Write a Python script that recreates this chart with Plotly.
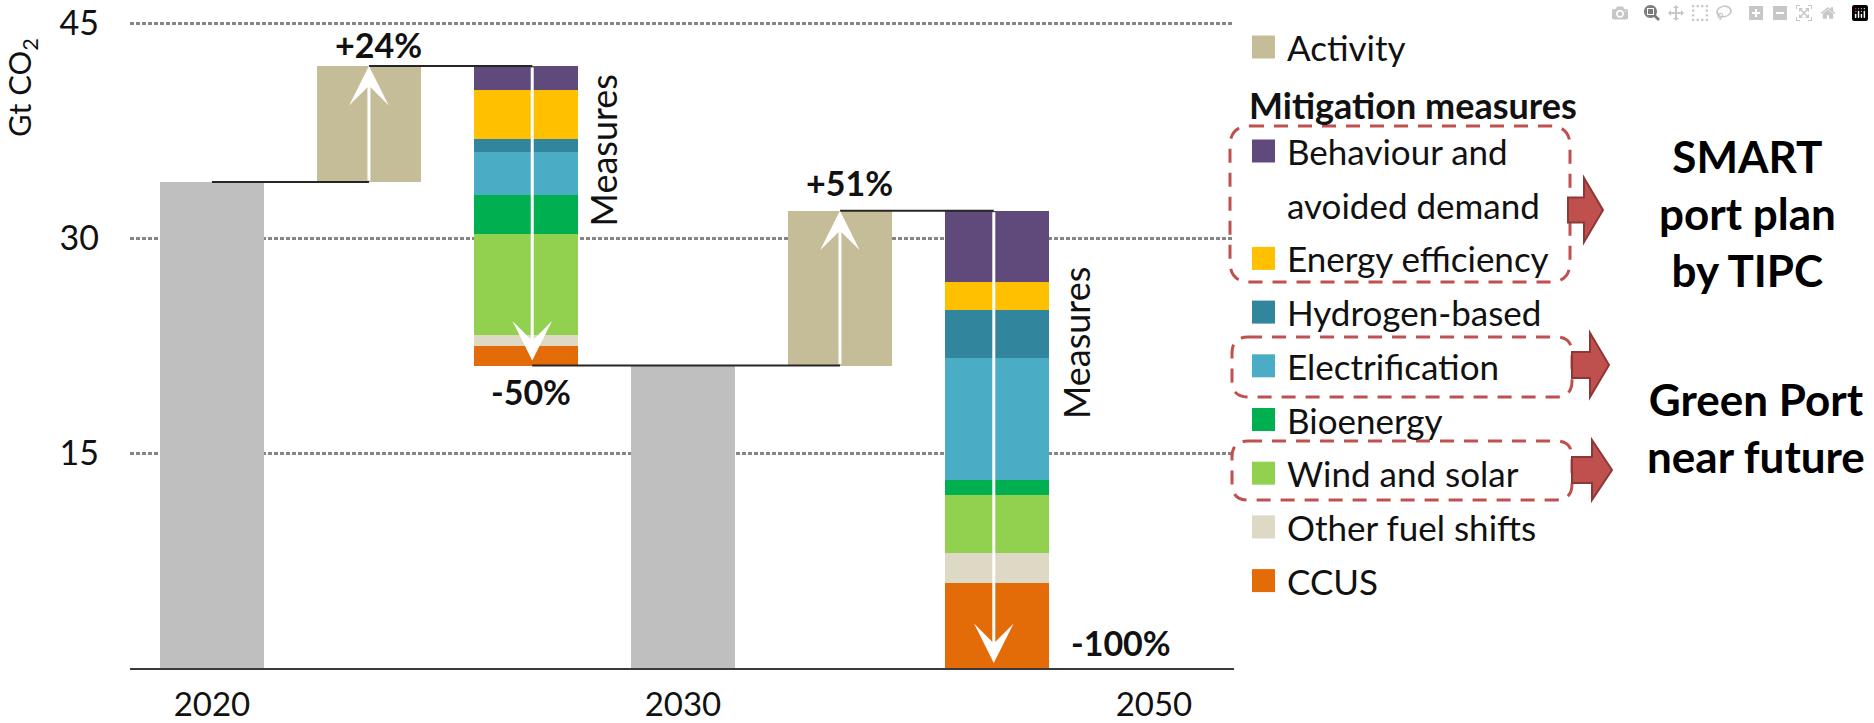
import numpy as np
import plotly.graph_objects as go

# ---------------- data ----------------
years = ["2020", "2030", "2050"]
year_slots = [0, 3, 6]
total_2020 = 33.9          # Gt CO2 emitted in 2020
total_2030 = 21.1          # Gt CO2 emitted in 2030
activity_2030 = 42.0       # level reached by activity growth to 2030
activity_2050 = 31.9       # level reached by activity growth to 2050
change_labels = ["+24%", "-50%", "+51%", "-100%"]

measure_names = ["CCUS", "Other fuel shifts", "Wind and solar", "Bioenergy",
                 "Electrification", "Hydrogen-based", "Energy efficiency",
                 "Behaviour and avoided demand"]
measures_2030 = [1.4, 0.7, 7.1, 2.7, 3.0, 0.9, 3.4, 1.7]
measures_2050 = [5.9, 2.1, 4.1, 1.0, 8.5, 3.4, 1.9, 5.0]
measure_colors = ["#E36C09", "#DDD9C4", "#92D050", "#00B050",
                  "#4BACC6", "#31859C", "#FFC000", "#604A7B"]
base_color = "#BFBFBF"
activity_color = "#C4BD97"

legend_title = "Mitigation measures"
legend_lines = [("Behaviour and", "#604A7B"), ("avoided demand", None),
                ("Energy efficiency", "#FFC000"), ("Hydrogen-based", "#31859C"),
                ("Electrification", "#4BACC6"), ("Bioenergy", "#00B050"),
                ("Wind and solar", "#92D050"), ("Other fuel shifts", "#DDD9C4"),
                ("CCUS", "#E36C09")]
side_notes = ["SMART<br>port plan<br>by TIPC", "Green Port<br>near future"]

# ---------------- layout helpers ----------------
W, H = 1874, 723
PL, PR, PT, PB = 130, 1234, 19, 668
Y_TOP = 45 + (23 - PT) / ((PB - 23) / 45)
FONT = "Lato"
INK = "#111111"
RED = "#C0504D"


def px(x):
    return (x - PL) / (PR - PL)


def py(y):
    return (PB - y) / (PB - PT)


fig = go.Figure()
bw = 0.66

fig.add_bar(x=[0, 3], y=[total_2020, total_2030], width=bw,
            marker=dict(color=base_color, line_width=0), name="Emissions")
fig.add_bar(x=[1, 4], y=[activity_2030 - total_2020, activity_2050 - total_2030],
            base=[total_2020, total_2030], width=bw,
            marker=dict(color=activity_color, line_width=0), name="Activity")

m30 = np.array(measures_2030)
m50 = np.array(measures_2050)
b30 = total_2030 + np.concatenate([[0], np.cumsum(m30)[:-1]])
b50 = 0 + np.concatenate([[0], np.cumsum(m50)[:-1]])
for i, nm in enumerate(measure_names):
    fig.add_bar(x=[2, 5], y=[m30[i], m50[i]], base=[b30[i], b50[i]], width=bw,
                marker=dict(color=measure_colors[i], line_width=0), name=nm)

# connector lines
connectors = [(0, 1, total_2020), (1, 2.04, activity_2030),
              (2.04, 4, total_2030), (4, 4.98, activity_2050)]
shapes = []
for x0, x1, yv in connectors:
    shapes.append(dict(type="line", xref="x", yref="y", x0=x0, x1=x1, y0=yv, y1=yv,
                       line=dict(color="#262626", width=2)))

annotations = []
# white arrows inside the bars
arrows = [(1, total_2020, activity_2030, 0), (2.04, activity_2030, total_2030, 5),
          (4, total_2030, activity_2050, 0), (4.98, activity_2050, 0, 5)]
for xv, tail, tip, so in arrows:
    annotations.append(dict(x=xv, y=tip, ax=xv, ay=tail, xref="x", yref="y",
                            axref="x", ayref="y", text="", showarrow=True,
                            arrowhead=3, arrowsize=2.2, arrowwidth=3,
                            arrowcolor="white", standoff=so))

# percentage labels
pct_pos = [(1.06, activity_2030 + 1.5), (2.03, total_2030 - 1.8),
           (4.06, activity_2050 + 2.0), (5.79, 1.8)]
for (xv, yv), t in zip(pct_pos, change_labels):
    annotations.append(dict(x=xv, y=yv, xref="x", yref="y", text=t, showarrow=False,
                            xanchor="center", yanchor="middle",
                            font=dict(family=FONT, size=34, color=INK, weight="bold")))

# "Measures" vertical labels
for xv, yv in [(2.49, 36.1), (5.50, 22.7)]:
    annotations.append(dict(x=xv, y=yv, xref="x", yref="y", text="Measures",
                            textangle=-90, showarrow=False,
                            xanchor="center", yanchor="middle",
                            font=dict(family=FONT, size=36, color=INK)))

# y axis title
annotations.append(dict(x=px(22), y=py(88), xref="paper", yref="paper",
                        text="Gt CO<sub>2</sub>", textangle=-90, showarrow=False,
                        xanchor="center", yanchor="middle",
                        font=dict(family=FONT, size=31, color=INK)))

# legend (manual)
SW = 23
TX = 1285
SX = 1252
LEG_SIZE = 35


def swatch(x_left, cy, color):
    shapes.append(dict(type="rect", xref="paper", yref="paper",
                       x0=px(x_left), x1=px(x_left + SW),
                       y0=py(cy + SW / 2), y1=py(cy - SW / 2),
                       fillcolor=color, line_width=0))


def label(x, y, txt, size, bold=False, anchor="left", color=INK):
    annotations.append(dict(x=px(x), y=py(y), xref="paper", yref="paper", text=txt,
                            xanchor=anchor, yanchor="middle", showarrow=False,
                            align="center",
                            font=dict(family=FONT, size=size, color=color,
                                      weight="bold" if bold else "normal")))


swatch(SX, 47, activity_color)
label(TX, 47, "Activity", LEG_SIZE)
label(1247, 105, legend_title, LEG_SIZE + 1, bold=True)
row0, pitch = 151, 53.7
for k, (txt, col) in enumerate(legend_lines):
    cy = row0 + k * pitch
    if col:
        swatch(SX, cy, col)
    label(TX, cy, txt, LEG_SIZE)


# dashed rounded boxes
def rounded_box(x0, y0, x1, y1, r):
    pts = [
        f"M {px(x0 + r)},{py(y0)}",
        f"L {px(x1 - r)},{py(y0)}",
        f"Q {px(x1)},{py(y0)} {px(x1)},{py(y0 + r)}",
        f"L {px(x1)},{py(y1 - r)}",
        f"Q {px(x1)},{py(y1)} {px(x1 - r)},{py(y1)}",
        f"L {px(x0 + r)},{py(y1)}",
        f"Q {px(x0)},{py(y1)} {px(x0)},{py(y1 - r)}",
        f"L {px(x0)},{py(y0 + r)}",
        f"Q {px(x0)},{py(y0)} {px(x0 + r)},{py(y0)}",
        "Z",
    ]
    shapes.append(dict(type="path", xref="paper", yref="paper", path=" ".join(pts),
                       line=dict(color=RED, width=3, dash="14px,10px"),
                       fillcolor="rgba(0,0,0,0)"))


rounded_box(1230, 126, 1570, 282, 20)
rounded_box(1232, 337, 1572, 397, 16)
rounded_box(1232, 441, 1572, 500, 16)


def block_arrow(x0, xb, xt, cy, bh, hh):
    pts = [(x0, cy - bh / 2), (xb, cy - bh / 2), (xb, cy - hh / 2), (xt, cy),
           (xb, cy + hh / 2), (xb, cy + bh / 2), (x0, cy + bh / 2)]
    path = "M " + " L ".join(f"{px(a)},{py(b)}" for a, b in pts) + " Z"
    shapes.append(dict(type="path", xref="paper", yref="paper", path=path,
                       fillcolor=RED, line=dict(color="#8C3836", width=2)))


block_arrow(1568, 1584, 1603, 210, 25, 64)
block_arrow(1572, 1590, 1609, 365, 26, 64)
block_arrow(1572, 1592, 1612, 470, 26, 60)

# side notes
label(1747, 213, side_notes[0], 44, bold=True, anchor="center", color="#000000")
label(1756, 428, side_notes[1], 44, bold=True, anchor="center", color="#000000")

fig.update_layout(
    width=W, height=H, barmode="overlay", bargap=0,
    margin=dict(l=PL, r=W - PR, t=PT, b=H - PB, pad=0, autoexpand=False),
    plot_bgcolor="white", paper_bgcolor="white", showlegend=False,
    shapes=shapes, annotations=annotations,
    font=dict(family=FONT, color=INK),
)
fig.update_xaxes(range=[-0.522, 6.51], tickvals=year_slots, ticktext=years,
                 showgrid=False, zeroline=False, showline=True, linecolor="#3a3a3a",
                 linewidth=2, ticks="", ticklabelstandoff=6, automargin=False,
                 tickfont=dict(family=FONT, size=33, color=INK))
fig.update_yaxes(range=[0, Y_TOP], tickvals=[15, 30, 45], showgrid=True,
                 gridcolor="#858585", gridwidth=3, griddash="4px,2px", zeroline=False,
                 showline=False, ticks="", ticklabelstandoff=30, automargin=False,
                 tickfont=dict(family=FONT, size=34, color=INK))

fig.write_html("out.html", post_script="document.body.style.margin='0';")
